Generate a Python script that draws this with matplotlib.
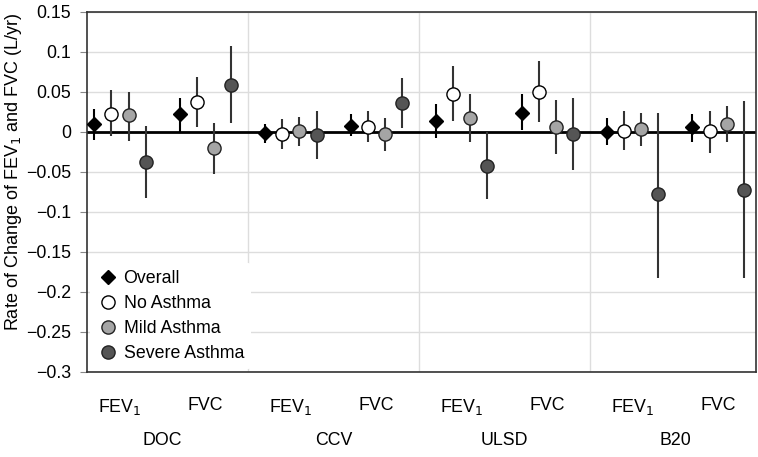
import numpy as np
import matplotlib
matplotlib.use("Agg")
import matplotlib.pyplot as plt
from matplotlib.ticker import FuncFormatter, MultipleLocator

plt.rcParams['font.family'] = ['Liberation Sans', 'DejaVu Sans']

# groups and measures
fuels = ['DOC', 'CCV', 'ULSD', 'B20']
measures = ['FEV$_1$', 'FVC']
series = ['Overall', 'No Asthma', 'Mild Asthma', 'Severe Asthma']

# values in order DOC-FEV1, DOC-FVC, CCV-FEV1, CCV-FVC, ULSD-FEV1, ULSD-FVC, B20-FEV1, B20-FVC
overall = [0.010, 0.022, -0.001, 0.008, 0.014, 0.024, 0.000, 0.006]
overall_lo = [-0.010, 0.000, -0.014, -0.005, -0.007, 0.003, -0.016, -0.012]
overall_hi = [0.029, 0.043, 0.010, 0.022, 0.035, 0.048, 0.017, 0.022]

no_asthma = [0.023, 0.037, -0.002, 0.006, 0.048, 0.050, 0.001, 0.001]
no_asthma_lo = [-0.005, 0.006, -0.021, -0.013, 0.014, 0.013, -0.023, -0.026]
no_asthma_hi = [0.052, 0.069, 0.016, 0.026, 0.082, 0.088, 0.026, 0.026]

mild = [0.021, -0.020, 0.001, -0.002, 0.018, 0.006, 0.004, 0.010]
mild_lo = [-0.011, -0.053, -0.018, -0.024, -0.013, -0.028, -0.018, -0.013]
mild_hi = [0.050, 0.011, 0.019, 0.017, 0.047, 0.040, 0.024, 0.032]

severe = [-0.038, 0.059, -0.004, 0.036, -0.042, -0.002, -0.078, -0.072]
severe_lo = [-0.082, 0.011, -0.034, 0.005, -0.084, -0.047, -0.182, -0.182]
severe_hi = [0.007, 0.107, 0.026, 0.068, 0.000, 0.042, 0.024, 0.039]

data = [(overall, overall_lo, overall_hi),
        (no_asthma, no_asthma_lo, no_asthma_hi),
        (mild, mild_lo, mild_hi),
        (severe, severe_lo, severe_hi)]
styles = [dict(marker='D', mfc='black', mec='black', ms=7.5),
          dict(marker='o', mfc='white', mec='black', ms=9.5),
          dict(marker='o', mfc='#a5a5a5', mec='#222222', ms=9.5),
          dict(marker='o', mfc='#555555', mec='#222222', ms=9.5)]
errcolors = ['black', '#333333', '#333333', '#333333']
offsets = [-0.15, -0.05, 0.05, 0.15]

fig = plt.figure(figsize=(7.58, 4.57), dpi=100)
ax = fig.add_axes([0.115, 0.186, 0.882, 0.788])

centers = np.array([g + 0.25 + 0.5 * m for g in range(len(fuels)) for m in range(len(measures))])

for i, (vals, lo, hi) in enumerate(data):
    vals = np.array(vals)
    lo = np.array(lo)
    hi = np.array(hi)
    x = centers + offsets[i]
    ax.errorbar(x, vals, yerr=[vals - lo, hi - vals], fmt='none',
                ecolor=errcolors[i], elinewidth=1.5, capsize=0, zorder=3)
    ax.plot(x, vals, linestyle='none', mew=1, label=series[i], zorder=4, **styles[i])

ax.axhline(0, color='black', lw=2, zorder=2)

ax.set_ylim(-0.3, 0.15)
ax.set_xlim(0.058, 3.97)
ax.yaxis.set_major_locator(MultipleLocator(0.05))
ax.yaxis.set_major_formatter(FuncFormatter(
    lambda v, p: ('%g' % round(v, 2)).replace('-', '\u2212')))
ax.grid(axis='y', color='#dddddd', lw=1)
for b in range(1, len(fuels)):
    ax.axvline(b, color='#dddddd', lw=1, zorder=0)
ax.set_axisbelow(True)

fs = 12.8
ax.set_xticks(centers)
ax.set_xticklabels(measures * len(fuels), fontsize=fs)
ax.tick_params(axis='x', length=0, pad=18)
ax.tick_params(axis='y', labelsize=fs, length=5, color='#888888', pad=6.5)
for g, name in enumerate(fuels):
    ax.text(g + 0.5, -0.19, name, transform=ax.get_xaxis_transform(),
            ha='center', va='center', fontsize=fs)

for s in ax.spines.values():
    s.set_color('#333333')
    s.set_linewidth(1.2)

ax.set_ylabel('Rate of Change of FEV$_1$ and FVC (L/yr)', fontsize=13, loc='top')
ax.yaxis.set_label_coords(-0.094, 1.0)

leg = ax.legend(loc='lower left', bbox_to_anchor=(0.0, 0.0), fontsize=fs,
                frameon=True, facecolor='white', edgecolor='none', framealpha=1,
                handletextpad=0.3, labelspacing=0.45, borderpad=0.4,
                handlelength=1.2, borderaxespad=0.15)

fig.savefig('out.png', dpi=100)
